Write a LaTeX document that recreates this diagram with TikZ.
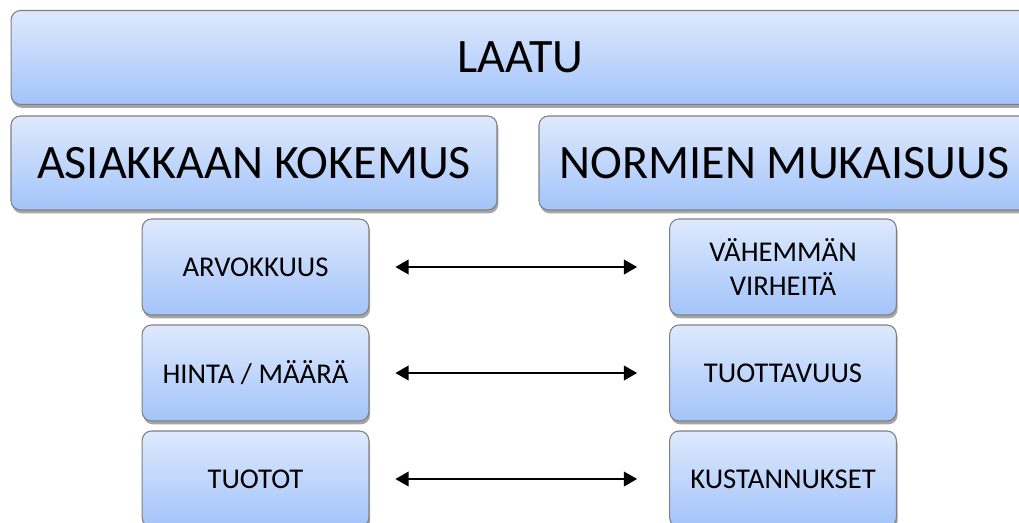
\documentclass[tikz,border=0pt]{standalone}
\usepackage{fontspec}
\setmainfont{Carlito}
\usetikzlibrary{arrows.meta, shadows}

\definecolor{boxtop}{RGB}{222,233,253}
\definecolor{boxbot}{RGB}{163,196,250}
\definecolor{boxline}{RGB}{128,128,128}

\tikzset{
    qbox/.style={draw=boxline, line width=0.8pt, rounded corners=7pt,
        top color=boxtop, bottom color=boxbot, align=center, inner sep=0pt,
        drop shadow={shadow xshift=1pt, shadow yshift=-2.5pt, fill=black, opacity=0.35}},
    bigbox/.style={qbox, minimum height=70.5pt, font=\fontsize{36}{40}\selectfont},
    smallbox/.style={qbox, minimum width=170pt, minimum height=72pt, font=\fontsize{21.5}{25.5}\selectfont},
    link/.style={line width=1.5pt, {Triangle[length=10pt,width=11pt]}-{Triangle[length=10pt,width=11pt]},
        shorten <=19.5pt, shorten >=24pt}
}

\begin{document}
\begin{tikzpicture}[x=0.75pt, y=-0.75pt]

    % --- FRAME (pixel grid of the reference) ---
    \clip (0,0) rectangle (1019,522);

    % --- TOP ROWS ---
    \node[bigbox, minimum width=764pt] (laatu) at (520.5,57.5) {LAATU};
    \node[bigbox, minimum width=364.5pt] (asiakas) at (254,163) {ASIAKKAAN KOKEMUS};
    \node[bigbox, minimum width=368.25pt] (normit) at (784.5,163) {NORMIEN MUKAISUUS};

    % --- LEFT COLUMN ---
    \node[smallbox] (arvo) at (255.5,267) {ARVOKKUUS};
    \node[smallbox] (hinta) at (255.5,373) {HINTA / MÄÄRÄ};
    \node[smallbox] (tuotot) at (255.5,479) {TUOTOT};

    % --- RIGHT COLUMN ---
    \node[smallbox] (virheet) at (783,267) {VÄHEMMÄN\\VIRHEITÄ};
    \node[smallbox] (tuottavuus) at (783,373) {TUOTTAVUUS};
    \node[smallbox] (kulut) at (783,479) {KUSTANNUKSET};

    % --- LINKS ---
    \draw[link] (arvo.east) -- (virheet.west);
    \draw[link] (hinta.east) -- (tuottavuus.west);
    \draw[link] (tuotot.east) -- (kulut.west);

\end{tikzpicture}
\end{document}
